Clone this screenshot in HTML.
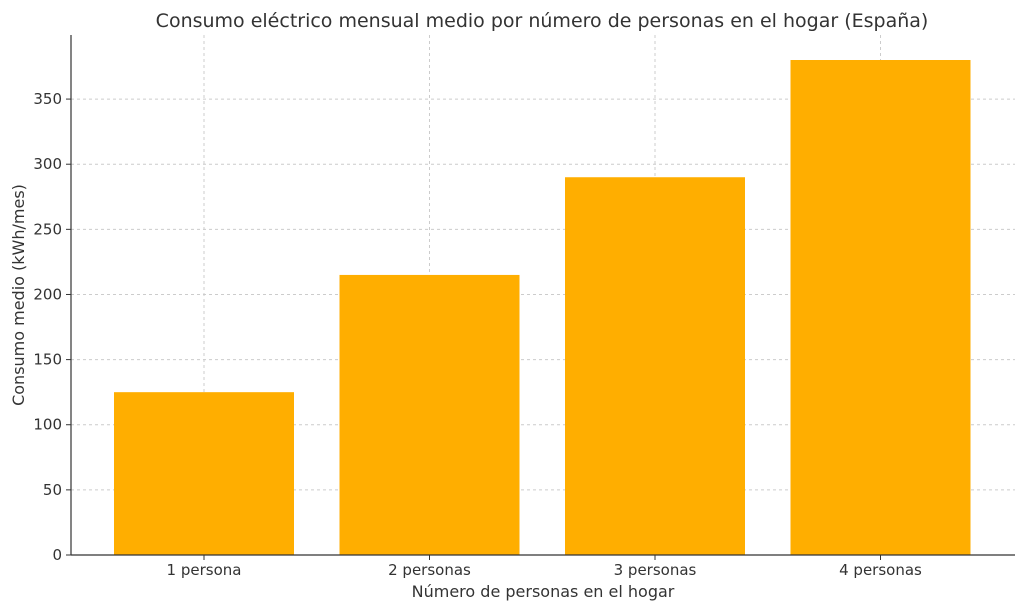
<!DOCTYPE html>
<html><head><meta charset="utf-8"><style>
body{margin:0;background:#fff;}
svg text{font-family:"DejaVu Sans","Liberation Sans",sans-serif;fill:#333;}
</style></head><body>
<svg id="chart" width="1024" height="611">
<text x="542" y="27" text-anchor="middle" font-size="19">Consumo eléctrico mensual medio por número de personas en el hogar (España)</text>
<g id="grid"></g><g id="bars"></g><g id="axes"></g>
<text x="543" y="597" text-anchor="middle" font-size="16">Número de personas en el hogar</text>
<text transform="translate(24,295) rotate(-90)" text-anchor="middle" font-size="16">Consumo medio (kWh/mes)</text>
</svg>
<script>
const categories=["1 persona","2 personas","3 personas","4 personas"];
const values=[125,215,290,380];
const yTicks=[0,50,100,150,200,250,300,350];
const L=71,R=1015,T=35,B=555;
const x=i=>204+225.5*i, bw=180;
const y=v=>B-v*(B-60)/380;
const NS="http://www.w3.org/2000/svg";
function mk(t,a,p){const e=document.createElementNS(NS,t);for(const k in a)e.setAttribute(k,a[k]);p.appendChild(e);return e;}
const g=document.getElementById('grid'),b=document.getElementById('bars'),ax=document.getElementById('axes');
yTicks.forEach(v=>{
 const l=mk('line',{x1:L,x2:R,y1:y(v),y2:y(v),stroke:'#ccc','stroke-dasharray':'3,3'},g);
 
 
 mk('line',{x1:L-5,x2:L,y1:y(v),y2:y(v),stroke:'#333'},ax);
 const t=mk('text',{x:L-9,y:y(v)+5,'text-anchor':'end','font-size':'15'},ax);t.textContent=v;
 
 
});
categories.forEach((c,i)=>{
 const l=mk('line',{x1:x(i),x2:x(i),y1:T,y2:B,stroke:'#ccc','stroke-dasharray':'3,3'},g);
 
 
 const r=mk('rect',{x:x(i)-bw/2,y:y(values[i]),width:bw,height:B-y(values[i]),fill:'#FFAE00'},b);
 
 
 mk('line',{x1:x(i),x2:x(i),y1:B,y2:B+5,stroke:'#333'},ax);
 const t=mk('text',{x:x(i),y:B+20,'text-anchor':'middle','font-size':'15'},ax);t.textContent=c;
 
 
});
mk('line',{x1:L,x2:L,y1:T,y2:B,stroke:'#333','stroke-width':1.2},ax);
mk('line',{x1:L,x2:R,y1:B,y2:B,stroke:'#333','stroke-width':1.2},ax);
</script>
</body></html>
